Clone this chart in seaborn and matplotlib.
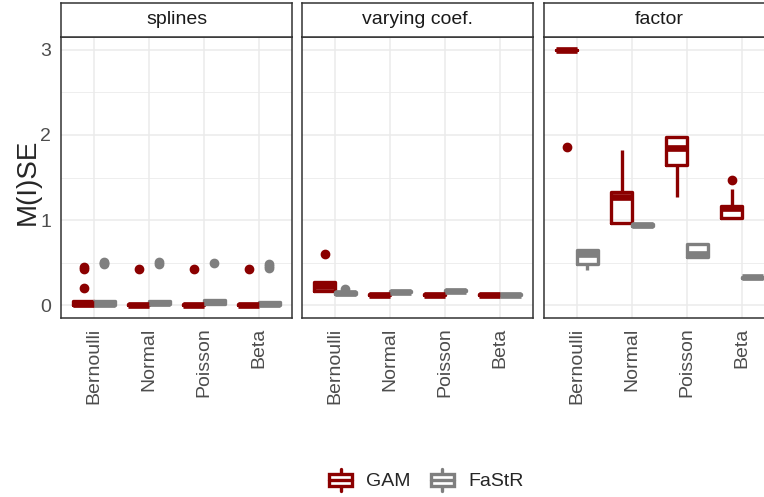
import matplotlib

matplotlib.use("Agg")

import pandas as pd
import matplotlib.pyplot as plt
import matplotlib.patches as mpatches
from matplotlib.lines import Line2D
from matplotlib.legend_handler import HandlerBase
import seaborn as sns

# categories
panels = ["splines", "varying coef.", "factor"]
dists = ["Bernoulli", "Normal", "Poisson", "Beta"]
methods = ["GAM", "FaStR"]
colors = {"GAM": "#8B0000", "FaStR": "#7F7F7F"}

# simulated errors, one list per distribution (Bernoulli, Normal, Poisson, Beta)
splines_gam = [
    [0.0, 0.002, 0.004, 0.005, 0.01, 0.015, 0.02, 0.03, 0.04, 0.05, 0.20, 0.43, 0.45],
    [0.0, 0.001, 0.002, 0.005, 0.008, 0.012, 0.02, 0.025, 0.43],
    [0.0, 0.001, 0.002, 0.005, 0.008, 0.012, 0.02, 0.025, 0.43],
    [0.0, 0.001, 0.002, 0.005, 0.008, 0.012, 0.02, 0.025, 0.43],
]
splines_fastr = [
    [0.0, 0.002, 0.004, 0.005, 0.01, 0.015, 0.02, 0.03, 0.04, 0.05, 0.49, 0.50, 0.51],
    [0.0, 0.005, 0.01, 0.02, 0.03, 0.04, 0.05, 0.49, 0.51],
    [0.0, 0.01, 0.02, 0.03, 0.04, 0.05, 0.06, 0.07, 0.50],
    [0.0, 0.001, 0.002, 0.003, 0.008, 0.012, 0.018, 0.025, 0.03, 0.04, 0.44, 0.46, 0.49],
]
varcoef_gam = [
    [0.15, 0.16, 0.165, 0.19, 0.22, 0.25, 0.27, 0.28, 0.60],
    [0.11, 0.115, 0.12, 0.122, 0.125, 0.128, 0.13, 0.135, 0.14],
    [0.11, 0.115, 0.12, 0.122, 0.125, 0.128, 0.13, 0.135, 0.14],
    [0.11, 0.115, 0.12, 0.122, 0.125, 0.128, 0.13, 0.135, 0.14],
]
varcoef_fastr = [
    [0.12, 0.13, 0.135, 0.14, 0.145, 0.15, 0.155, 0.16, 0.19],
    [0.145, 0.15, 0.155, 0.158, 0.16, 0.162, 0.165, 0.17, 0.175],
    [0.155, 0.16, 0.165, 0.168, 0.17, 0.172, 0.175, 0.18, 0.185],
    [0.11, 0.115, 0.12, 0.122, 0.125, 0.128, 0.13, 0.135, 0.14],
]
factor_gam = [
    [1.86, 2.99, 2.995, 2.998, 3.0, 3.0, 3.003, 3.005, 3.01],
    [0.95, 0.955, 0.96, 1.1, 1.27, 1.30, 1.33, 1.5, 1.82],
    [1.27, 1.45, 1.65, 1.75, 1.85, 1.92, 1.98, 1.98, 1.98],
    [1.03, 1.03, 1.03, 1.09, 1.14, 1.16, 1.17, 1.37, 1.47],
]
factor_fastr = [
    [0.41, 0.45, 0.49, 0.55, 0.60, 0.63, 0.65, 0.65, 0.66],
    [0.92, 0.925, 0.93, 0.935, 0.94, 0.945, 0.95, 0.955, 0.96],
    [0.55, 0.56, 0.57, 0.585, 0.60, 0.66, 0.72, 0.72, 0.73],
    [0.32, 0.322, 0.325, 0.328, 0.33, 0.332, 0.335, 0.338, 0.34],
]

groups = {
    ("splines", "GAM"): splines_gam,
    ("splines", "FaStR"): splines_fastr,
    ("varying coef.", "GAM"): varcoef_gam,
    ("varying coef.", "FaStR"): varcoef_fastr,
    ("factor", "GAM"): factor_gam,
    ("factor", "FaStR"): factor_fastr,
}
rows = []
for (panel, method), lists in groups.items():
    for dist, vals in zip(dists, lists):
        for v in vals:
            rows.append((panel, method, dist, v))
df = pd.DataFrame(rows, columns=["panel", "method", "dist", "value"])


class BoxKey(HandlerBase):
    # boxplot legend glyph like ggplot's draw_key_boxplot
    def create_artists(self, legend, orig_handle, xdescent, ydescent,
                       width, height, fontsize, trans):
        c = orig_handle.get_edgecolor()
        x0, y0 = -xdescent, -ydescent
        xm = x0 + width / 2
        box = mpatches.Rectangle((x0 + 0.08 * width, y0 + 0.22 * height), 0.84 * width, 0.56 * height,
                                 facecolor="white", edgecolor=c, lw=2.4, transform=trans)
        med = Line2D([x0 + 0.08 * width, x0 + 0.92 * width], [y0 + 0.5 * height] * 2,
                     color=c, lw=2.4, transform=trans)
        lo = Line2D([xm, xm], [y0 + 0.02 * height, y0 + 0.22 * height], color=c, lw=2.4, transform=trans)
        hi = Line2D([xm, xm], [y0 + 0.78 * height, y0 + 0.98 * height], color=c, lw=2.4, transform=trans)
        return [lo, hi, box, med]


sns.set_style("white")
plt.rcParams["font.family"] = ["Liberation Sans", "DejaVu Sans"]

W, H = 764, 497
fig = plt.figure(figsize=(W / 100, H / 100), dpi=100)


def px(l, t, w, h):
    return [l / W, 1 - (t + h) / H, w / W, h / H]


lefts = [61, 302, 544]
for i, panel in enumerate(panels):
    ax = fig.add_axes(px(lefts[i], 37, 231, 281))
    sub = df[df["panel"] == panel]
    sns.boxplot(data=sub, x="dist", y="value", hue="method", order=dists, hue_order=methods,
                palette=colors, fill=False, width=0.75, linewidth=2.4, fliersize=6,
                medianprops={"linewidth": 4.8}, showcaps=False, legend=False, ax=ax)
    for ln in ax.lines:
        if ln.get_marker() == "o":
            ln.set_markerfacecolor(ln.get_markeredgecolor())

    ax.set_xlim(-0.6, 3.6)
    ax.set_ylim(-0.15, 3.15)
    ax.set_yticks([0, 1, 2, 3])
    ax.set_yticks([0.5, 1.5, 2.5], minor=True)
    ax.grid(which="major", color="#EBEBEB", lw=1.1)
    ax.grid(which="minor", axis="y", color="#EBEBEB", lw=0.6)
    ax.set_axisbelow(True)
    for s in ax.spines.values():
        s.set_visible(True)
        s.set_color("#333333")
        s.set_linewidth(1.1)
    ax.tick_params(axis="x", rotation=90, length=4, width=1, color="#333333",
                   labelsize=14, labelcolor="#4D4D4D", pad=3)
    ax.tick_params(axis="y", which="minor", left=False)
    ax.set_xlabel("")
    ax.set_ylabel("")
    if i == 0:
        ax.tick_params(axis="y", length=4, width=1, color="#333333",
                       labelsize=14, labelcolor="#4D4D4D", pad=3)
    else:
        ax.tick_params(axis="y", left=False, labelleft=False)

    # facet strip
    sax = fig.add_axes(px(lefts[i], 3, 231, 34))
    sax.set_xticks([])
    sax.set_yticks([])
    sax.set_facecolor("white")
    for s in sax.spines.values():
        s.set_visible(True)
        s.set_color("#333333")
        s.set_linewidth(1.1)
    sax.text(0.5, 0.5, panel, ha="center", va="center", fontsize=14, color="#1A1A1A",
             transform=sax.transAxes)

fig.text(28 / W, 1 - 182 / H, "M(I)SE", rotation=90, fontsize=20, ha="center", va="center")

handles = [mpatches.Patch(facecolor="white", edgecolor=colors[m], label=m) for m in methods]
fig.legend(handles=handles, labels=methods, handler_map={mpatches.Patch: BoxKey()},
           loc="center", bbox_to_anchor=(425 / W, 1 - 480 / H), ncol=2, frameon=False,
           fontsize=14, handlelength=1.45, handleheight=1.45, handletextpad=0.6,
           columnspacing=0.9, borderaxespad=0)

fig.savefig("out.png", dpi=100)
